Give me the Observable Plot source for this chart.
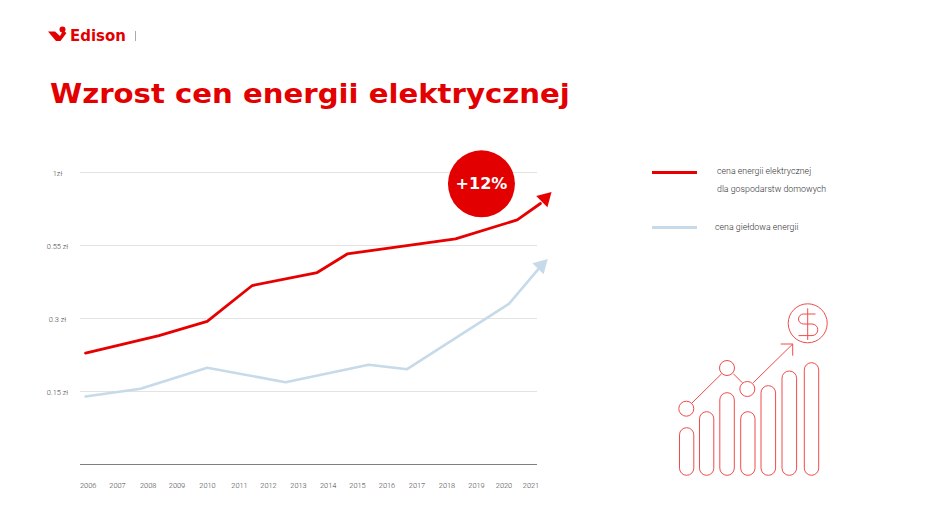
<!DOCTYPE html>
<html lang="pl">
<head>
<meta charset="utf-8">
<script src="https://cdn.jsdelivr.net/npm/d3@7"></script>
<script src="https://cdn.jsdelivr.net/npm/@observablehq/plot@0.6"></script>
<style>
  html, body { margin: 0; padding: 0; background: #fff; overflow: hidden; }
  #page { position: relative; width: 940px; height: 516px; }
  #chart { position: absolute; left: 0; top: 0; width: 940px; height: 516px; }
  .abs { position: absolute; white-space: nowrap; }
  #brand { left: 70px; top: 25.5px; font: 700 15px/20px "DejaVu Sans", sans-serif; color: #e30000; transform-origin: 0 50%; transform: scaleX(0.995); }
  #divider { left: 135px; top: 31px; width: 1px; height: 10px; background: #aaa; }
  #title { left: 50px; top: 76px; margin: 0; font: 700 27px/36px "DejaVu Sans", sans-serif; color: #e30000; transform-origin: 0 50%; transform: scaleX(1.08); }
  .legend { font: 300 8.8px/12px Roboto, sans-serif; color: #333; }
  .swatch { height: 3px; width: 45px; left: 652px; }
  svg.deco { position: absolute; left: 0; top: 0; pointer-events: none; }
</style>
</head>
<body>
<div id="page">
  <div id="chart"></div>

  <!-- decorative logo mark and illustration, not data -->
  <svg class="deco" width="940" height="516" viewBox="0 0 940 516" fill="none">
    <path d="M48 31.5 L55 31.5 L60 36 L63 30.5 L66.5 33 L60.5 41 L56 41 Z" fill="#e30000"/>
    <circle cx="62.5" cy="29.5" r="3" fill="#e30000"/>
    <g stroke="#f24a4a" stroke-width="1">
      <rect x="679.5" y="427.7" width="14.3" height="47.6" rx="7.1"/>
      <rect x="699.5" y="411.7" width="14.3" height="63.6" rx="7.1"/>
      <rect x="719.8" y="392.7" width="14.5" height="82.6" rx="7.2"/>
      <rect x="740.7" y="411.7" width="14.3" height="63.6" rx="7.1"/>
      <rect x="761" y="385.7" width="14.6" height="89.6" rx="7.2"/>
      <rect x="782" y="371" width="14.6" height="104.3" rx="7.2"/>
      <rect x="804.3" y="362.7" width="14.4" height="112.6" rx="7.2"/>
      <circle cx="686.3" cy="408.7" r="7.5"/>
      <circle cx="727" cy="368" r="7.5"/>
      <circle cx="747.3" cy="389" r="7.5"/>
      <circle cx="807.7" cy="323.3" r="19.5"/>
      <path d="M691.7 403.3 L721.7 373.7 M733.3 373.7 L742.3 382.7 M753.3 382.7 L792.7 344 M780.7 344 H792.7 V355.7"/>
      <path d="M807.7 308.3 V340 M815.5 314 H803.5 A5 5 0 0 0 803.5 324 H812 A5.8 5.8 0 0 1 812 335.6 H798.5"/>
    </g>
  </svg>

  <div id="brand" class="abs">Edison</div>
  <div id="divider" class="abs"></div>
  <h1 id="title" class="abs">Wzrost cen energii elektrycznej</h1>

  <div class="abs swatch" style="top:170.5px;background:#e60000"></div>
  <div class="abs legend" style="left:717px;top:165px">cena energii elektrycznej</div>
  <div class="abs legend" style="left:717px;top:183px">dla gospodarstw domowych</div>
  <div class="abs swatch" style="top:226px;background:#c6dae9"></div>
  <div class="abs legend" style="left:715px;top:221px">cena giełdowa energii</div>
</div>

<script>
// Tick labels
const yearTicks = [2006,2007,2008,2009,2010,2011,2012,2013,2014,2015,2016,2017,2018,2019,2020,2021];
const priceTicks = [0.15, 0.3, 0.55, 1];
const priceLabels = ["0.15 zł", "0.3 zł", "0.55 zł", "1zł"];

// Red series: household electricity price (vertices)
const redYears  = [2005.91, 2008.375, 2009.99, 2011.44, 2013.63, 2014.65, 2018.29, 2020.49, 2021.35];
const redPrices = [0.2287, 0.265, 0.294, 0.413, 0.4575, 0.521, 0.591, 0.708, 0.809];

// Blue series: exchange price
const blueYears  = [2005.91, 2007.75, 2009.99, 2012.57, 2015.38, 2016.67, 2020.18, 2021.28];
const bluePrices = [0.1397, 0.1555, 0.1987, 0.169, 0.2049, 0.1958, 0.35, 0.47];

// Arrow heads and the badge position
const headYears  = [2021.52, 2021.38];
const headPrices = [0.84, 0.4815];
const headColors = ["#e60000", "#c6dae9"];
const badgeYear = 2019.18;
const badgePrice = 0.93;
const badgeText = "+12%";

const zip = (xs, ys) => xs.map((x, i) => ({x, y: ys[i]}));
const heads = headYears.map((x, i) => ({x, y: headPrices[i], c: headColors[i]}));
const badge = [{x: badgeYear, y: badgePrice}];

const chart = Plot.plot({
  width: 940,
  height: 516,
  marginLeft: 80,
  marginRight: 403,
  marginTop: 0,
  marginBottom: 52,
  style: {background: "transparent", overflow: "visible"},
  x: {type: "linear", domain: yearTicks,
      range: [87.7,117,147.7,176.5,207,239,268,298,327.7,357,386.5,416.5,446.5,476,503.5,530.5]},
  y: {type: "linear", domain: [0, ...priceTicks], range: [464, 391, 318, 245, 172]},
  marks: [
    Plot.ruleY(priceTicks, {stroke: "#e3e3e3", strokeWidth: 1}),
    Plot.ruleY([0], {stroke: "#7f7f7f", strokeWidth: 1}),
    Plot.axisX({ticks: yearTicks, tickFormat: d => String(d), tickSize: 0, tickPadding: 0, dy: 18.5,
      anchor: "bottom", label: null, fontSize: 7.4, fontFamily: "Roboto", fontWeight: 300, fill: "#444"}),
    Plot.axisY({ticks: priceTicks, tickFormat: d => priceLabels[priceTicks.indexOf(d)], tickSize: 0, tickPadding: 0,
      anchor: "left", dx: -23, dy: 1.5, textAnchor: "middle", label: null, fontSize: 7.4, fontFamily: "Roboto", fontWeight: 300, fill: "#444"}),
    Plot.line(zip(blueYears, bluePrices), {x: "x", y: "y", stroke: "#c6dae9", strokeWidth: 2.6, curve: "linear"}),
    Plot.line(zip(redYears, redPrices), {x: "x", y: "y", stroke: "#e60000", strokeWidth: 2.8, curve: "linear"}),
    Plot.dot(heads, {x: "x", y: "y", symbol: "triangle", r: 5.9, rotate: 45, fill: "c", stroke: "none"}),
    Plot.dot(badge, {x: "x", y: "y", r: 33.5, fill: "#e30000", stroke: "none"}),
    Plot.text(badge, {x: "x", y: "y", text: () => badgeText, fill: "#fff", fontSize: 16, fontWeight: 700,
      fontFamily: "DejaVu Sans", textAnchor: "middle"})
  ]
});
document.getElementById("chart").appendChild(chart);
</script>
</body>
</html>
